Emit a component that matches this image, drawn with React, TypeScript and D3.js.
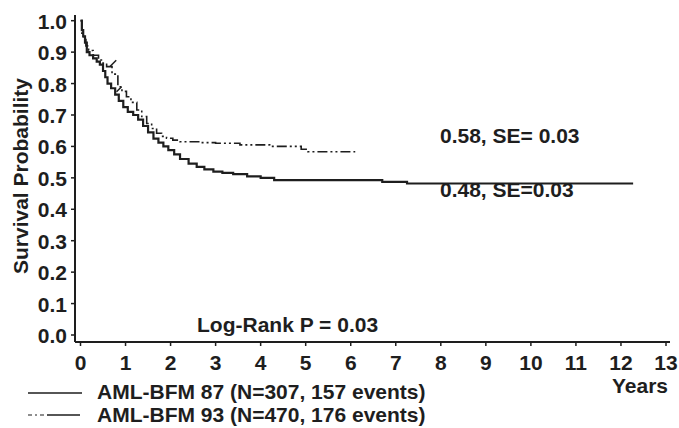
import { useEffect, useRef } from 'react'
import * as d3 from 'd3'

// Kaplan-Meier estimates (step after)
const bfm87Years = [0, 0.03, 0.06, 0.1, 0.14, 0.2, 0.28, 0.36, 0.43, 0.5, 0.55, 0.6, 0.68, 0.77, 0.85, 0.95, 1.05, 1.17, 1.28, 1.39, 1.5, 1.62, 1.73, 1.84, 1.95, 2.08, 2.21, 2.4, 2.58, 2.75, 2.95, 3.15, 3.39, 3.7, 4.0, 4.3, 6.7, 7.25, 12.27]
const bfm87Surv = [1.0, 0.97, 0.95, 0.93, 0.9, 0.89, 0.88, 0.87, 0.86, 0.84, 0.82, 0.8, 0.785, 0.765, 0.745, 0.725, 0.71, 0.7, 0.685, 0.665, 0.645, 0.625, 0.612, 0.6, 0.588, 0.575, 0.56, 0.545, 0.535, 0.527, 0.52, 0.516, 0.512, 0.505, 0.5, 0.493, 0.487, 0.482, 0.482]

const bfm93Years = [0, 0.03, 0.07, 0.12, 0.18, 0.28, 0.4, 0.5, 0.58, 0.7, 0.83, 0.92, 1.02, 1.12, 1.25, 1.36, 1.47, 1.58, 1.69, 1.8, 1.91, 2.05, 2.21, 2.65, 3.0, 3.54, 4.2, 4.9, 5.05, 6.1]
const bfm93Surv = [1.0, 0.96, 0.94, 0.92, 0.905, 0.89, 0.875, 0.865, 0.854, 0.83, 0.79, 0.775, 0.758, 0.74, 0.716, 0.695, 0.673, 0.657, 0.642, 0.632, 0.626, 0.62, 0.615, 0.612, 0.61, 0.605, 0.6, 0.591, 0.583, 0.583]

// censoring marks
const censor87 = [[0.8, 0.774]]
const censor93 = [[0.66, 0.855]]

const yTicks = [0, 0.1, 0.2, 0.3, 0.4, 0.5, 0.6, 0.7, 0.8, 0.9, 1.0]
const xTicks = [0, 1, 2, 3, 4, 5, 6, 7, 8, 9, 10, 11, 12, 13]

const legendLabels = ['AML-BFM 87 (N=307, 157 events)', 'AML-BFM 93 (N=470, 176 events)']
const annot93 = '0.58, SE= 0.03'
const annot87 = '0.48, SE=0.03'
const logRank = 'Log-Rank P = 0.03'

const FONT = "'Liberation Sans', Arial, Helvetica, sans-serif"
const INK = '#1e1e1e'
const FS = 21

export default function App() {
  const svgRef = useRef<SVGSVGElement | null>(null)

  useEffect(() => {
    const W = 679, H = 428
    const svg = d3.select(svgRef.current)
    svg.selectAll('*').remove()
    svg.attr('width', W).attr('height', H)

    const x = d3.scaleLinear().domain([0, 13]).range([80.5, 666])
    const y = d3.scaleLinear().domain([0, 1]).range([335, 20.7])
    const axisY = 342
    const axisX = 75

    // axes
    svg.append('line')
      .attr('x1', axisX).attr('x2', axisX).attr('y1', 15).attr('y2', axisY)
      .attr('stroke', INK).attr('stroke-width', 2)
    svg.append('line')
      .attr('x1', axisX).attr('x2', 670).attr('y1', axisY).attr('y2', axisY)
      .attr('stroke', INK).attr('stroke-width', 2)

    svg.selectAll('.ytick')
      .data(yTicks)
      .join('line')
      .attr('x1', axisX - 4).attr('x2', axisX)
      .attr('y1', d => y(d)).attr('y2', d => y(d))
      .attr('stroke', INK).attr('stroke-width', 1.5)

    svg.selectAll('.ylab')
      .data(yTicks)
      .join('text')
      .attr('x', 67).attr('y', d => y(d)).attr('dy', '0.38em')
      .attr('text-anchor', 'end')
      .attr('font-family', FONT).attr('font-weight', 'bold').attr('font-size', FS)
      .attr('fill', INK)
      .text(d => d.toFixed(1))

    svg.selectAll('.xtick')
      .data(xTicks)
      .join('line')
      .attr('x1', d => x(d)).attr('x2', d => x(d))
      .attr('y1', axisY).attr('y2', axisY + 4)
      .attr('stroke', INK).attr('stroke-width', 1.5)

    svg.selectAll('.xlab')
      .data(xTicks)
      .join('text')
      .attr('x', d => x(d)).attr('y', 370)
      .attr('text-anchor', 'middle')
      .attr('font-family', FONT).attr('font-weight', 'bold').attr('font-size', FS)
      .attr('fill', INK)
      .text(d => String(d))

    svg.append('text')
      .attr('x', 668).attr('y', 393)
      .attr('text-anchor', 'end')
      .attr('font-family', FONT).attr('font-weight', 'bold').attr('font-size', FS)
      .attr('fill', INK)
      .text('Years')

    svg.append('text')
      .attr('transform', 'translate(28,176) rotate(-90)')
      .attr('text-anchor', 'middle')
      .attr('font-family', FONT).attr('font-weight', 'bold').attr('font-size', FS)
      .attr('fill', INK)
      .text('Survival Probability')

    // curves
    const line = d3.line<[number, number]>()
      .x(d => x(d[0])).y(d => y(d[1]))
      .curve(d3.curveStepAfter)

    const pts87 = bfm87Years.map((t, i) => [t, bfm87Surv[i]] as [number, number])
    const pts93 = bfm93Years.map((t, i) => [t, bfm93Surv[i]] as [number, number])

    svg.append('path')
      .attr('d', line(pts93))
      .attr('fill', 'none').attr('stroke', INK).attr('stroke-width', 1.6)
      .attr('stroke-dasharray', '10,3,2,3,2,3')

    svg.append('path')
      .attr('d', line(pts87))
      .attr('fill', 'none').attr('stroke', INK).attr('stroke-width', 2.2)

    svg.selectAll('.c93')
      .data(censor93)
      .join('line')
      .attr('x1', d => x(d[0])).attr('y1', d => y(d[1]))
      .attr('x2', d => x(d[0]) + 6).attr('y2', d => y(d[1]) - 6)
      .attr('stroke', INK).attr('stroke-width', 1.5)

    svg.selectAll('.c87')
      .data(censor87)
      .join('line')
      .attr('x1', d => x(d[0])).attr('y1', d => y(d[1]))
      .attr('x2', d => x(d[0]) + 5).attr('y2', d => y(d[1]) - 5)
      .attr('stroke', INK).attr('stroke-width', 1.5)

    // annotations
    const txt = (s: string, tx: number, ty: number) =>
      svg.append('text')
        .attr('x', tx).attr('y', ty)
        .attr('font-family', FONT).attr('font-weight', 'bold').attr('font-size', FS)
        .attr('fill', INK)
        .text(s)

    txt(annot93, 440, 143)
    txt(annot87, 440, 197)
    txt(logRank, 197, 332)

    // legend
    const lg = svg.append('g')
    lg.append('line')
      .attr('x1', 28).attr('x2', 82).attr('y1', 393).attr('y2', 393)
      .attr('stroke', INK).attr('stroke-width', 1.5)
    lg.append('line')
      .attr('x1', 28).attr('x2', 44).attr('y1', 415).attr('y2', 415)
      .attr('stroke', INK).attr('stroke-width', 1.2)
      .attr('stroke-dasharray', '4,3,2,3')
    lg.append('line')
      .attr('x1', 47).attr('x2', 80).attr('y1', 415).attr('y2', 415)
      .attr('stroke', INK).attr('stroke-width', 1.5)
    legendLabels.forEach((l, i) => txt(l, 97, 399 + i * 23))
  }, [])

  return <svg ref={svgRef} style={{ position: 'absolute', left: 0, top: 0, background: '#fff' }} />
}
